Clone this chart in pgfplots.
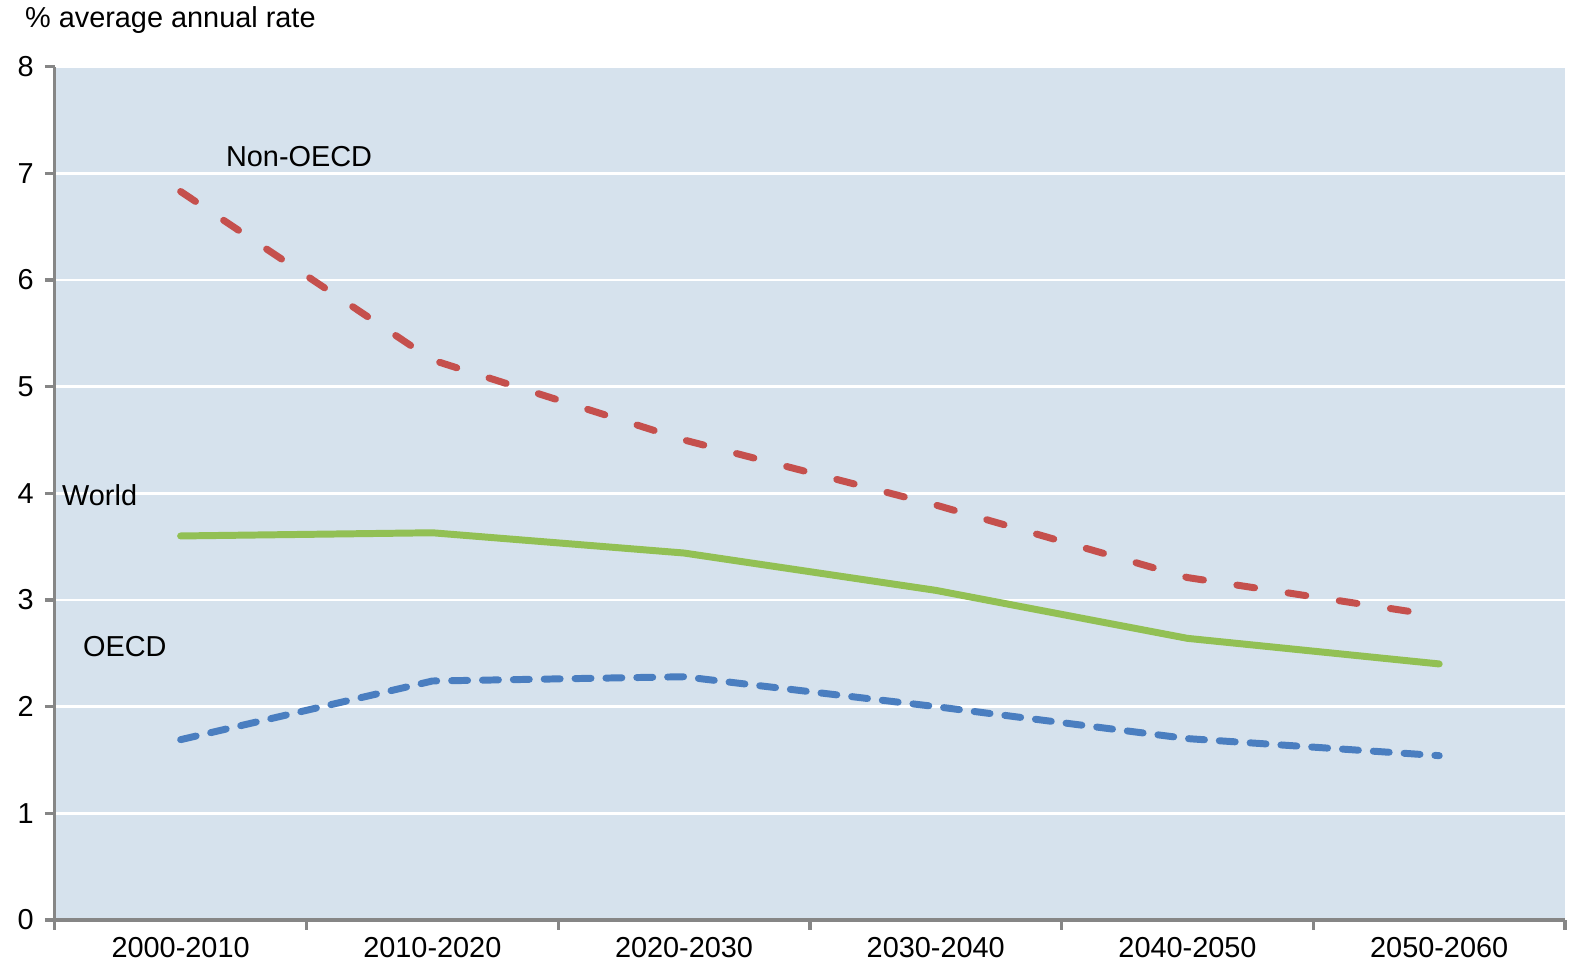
\documentclass[border=0pt]{standalone}
\usepackage{pgfplots}
\pgfplotsset{compat=1.18}
\usepackage{fontspec}
\setmainfont{Liberation Sans}
\definecolor{bgblue}{RGB}{214,226,237}
\definecolor{axgray}{RGB}{134,134,134}
\definecolor{nonoecd}{RGB}{197,80,77}
\definecolor{world}{RGB}{146,192,84}
\definecolor{oecd}{RGB}{74,126,192}
\begin{document}
\begin{tikzpicture}
\begin{axis}[
    scale only axis,
    width=758.5pt, height=428.5pt,
    xmin=0, xmax=6, ymin=0, ymax=8,
    axis lines=left,
    axis line style={-, axgray, line width=1.6pt},
    axis background/.style={fill=bgblue},
    ytick={0,1,...,8},
    xtick={0.5,1.5,...,5.5},
    xticklabels={2000-2010,2010-2020,2020-2030,2030-2040,2040-2050,2050-2060},
    minor xtick={0,1,...,6},
    major x tick style={draw=none},
    minor x tick style={axgray, line width=1.6pt},
    y tick style={axgray, line width=1.6pt},
    tick align=outside,
    major tick length=5pt,
    minor tick length=5pt,
    ymajorgrids,
    grid style={white, line width=1.4pt},
    tick label style={font=\fontsize{14.5}{16}\selectfont},
    yticklabel style={xshift=-2pt},
    /pgf/number format/assume math mode=true,
    clip=false,
]
\addplot[nonoecd, line width=3.5pt, line cap=round, dash pattern=on 9pt off 17pt] coordinates {
    (0.5,6.83) (1.5,5.25) (2.5,4.5) (3.5,3.89) (4.5,3.21) (5.5,2.85)
};
\addplot[world, line width=3.5pt, line cap=round] coordinates {
    (0.5,3.6) (1.5,3.63) (2.5,3.44) (3.5,3.09) (4.5,2.64) (5.5,2.4)
};
\addplot[oecd, line width=3.5pt, line cap=round, dash pattern=on 8pt off 7.5pt] coordinates {
    (0.5,1.69) (1.5,2.24) (2.5,2.28) (3.5,2.0) (4.5,1.7) (5.5,1.54)
};
\node[anchor=west, inner sep=0pt, font=\fontsize{14.5}{16}\selectfont] at (axis cs:0.679,7.16) {Non-OECD};
\node[anchor=west, inner sep=0pt, font=\fontsize{14.5}{16}\selectfont] at (axis cs:0.028,3.98) {World};
\node[anchor=west, inner sep=0pt, font=\fontsize{14.5}{16}\selectfont] at (axis cs:0.111,2.56) {OECD};
\node[anchor=west, inner sep=0pt, font=\fontsize{14.5}{16}\selectfont] at (rel axis cs:-0.0199,1.055) {\% average annual rate};
% page margins as in the reference
\path (rel axis cs:0,0) ++(-27.5pt,-24pt) coordinate (bbsw);
\path (rel axis cs:1,1) ++(5pt,33.5pt) coordinate (bbne);
\end{axis}
\pgfresetboundingbox
\useasboundingbox (bbsw) rectangle (bbne);
\end{tikzpicture}
\end{document}
